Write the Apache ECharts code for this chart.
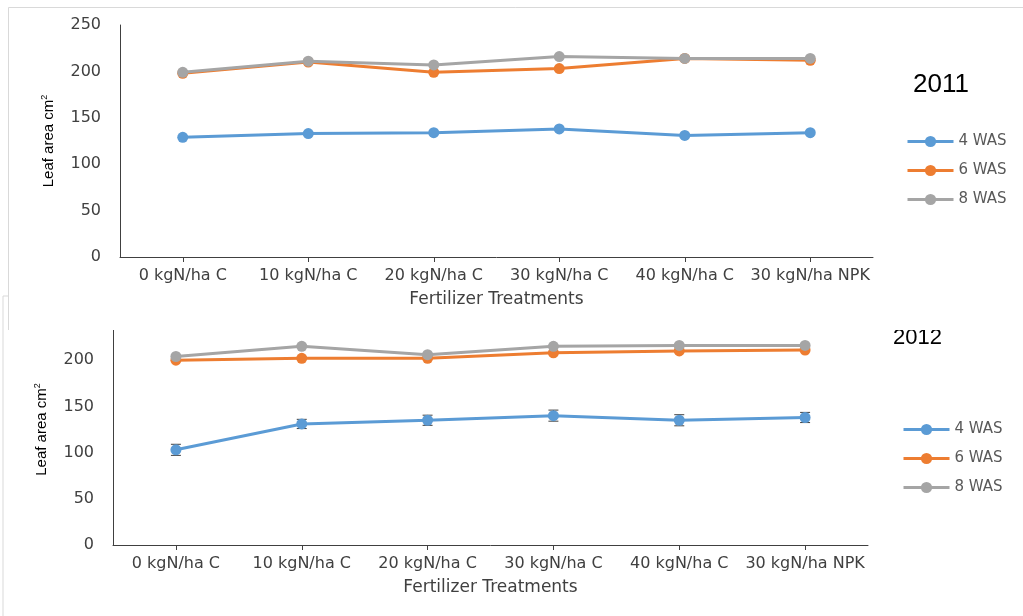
<!DOCTYPE html>
<html><head><meta charset="utf-8">
<script src="https://cdn.jsdelivr.net/npm/echarts@6/dist/echarts.min.js"></script>
<style>html,body{margin:0;padding:0;background:#fff}#c{width:1023px;height:616px}</style>
</head><body><div id="c"></div>
<script>
const categories = ['0 kgN/ha C','10 kgN/ha C','20 kgN/ha C','30 kgN/ha C','40 kgN/ha C','30 kgN/ha NPK'];
const seriesNames = ['4 WAS','6 WAS','8 WAS'];
const was4_2011 = [129, 133, 134, 138, 131, 134];
const was6_2011 = [198, 210, 199, 203, 214, 212];
const was8_2011 = [199, 211, 207, 216, 214, 214];
const was4_2012 = [103, 131, 135, 140, 135, 138];
const was6_2012 = [200, 202, 202, 208, 210, 211];
const was8_2012 = [204, 215, 206, 215, 216, 216];
const err4_2012 = [6, 5, 5.5, 6, 6, 5.5];
const yTicks = {min: 0, max: 250, interval: 50};
const titles = ['2011', '2012'];

const colors = ['#5B9BD5', '#ED7D31', '#A5A5A5'];
const F = 'DejaVu Sans';
const axisColor = '#404040';

function xAxis(gi, z) {
  return {
    type: 'category', gridIndex: gi, data: categories, z: z,
    boundaryGap: true,
    axisLine: {lineStyle: {color: axisColor, width: 1}},
    axisTick: {show: true, alignWithLabel: true, length: 5, lineStyle: {color: axisColor}},
    axisLabel: {interval: 0, color: axisColor, fontFamily: F, fontSize: 16, margin: 11},
    name: 'Fertilizer Treatments', nameLocation: 'middle', nameGap: 34,
    nameTextStyle: {color: axisColor, fontFamily: F, fontSize: 17}
  };
}
function yAxis(gi, z) {
  return {
    type: 'value', gridIndex: gi, z: z,
    min: yTicks.min, max: yTicks.max, interval: yTicks.interval,
    axisLine: {show: true, lineStyle: {color: axisColor, width: 1}},
    axisTick: {show: false},
    splitLine: {show: false},
    axisLabel: {color: axisColor, fontFamily: F, fontSize: 16, margin: 19},
    name: '{a|Leaf area cm}{b|2}', nameLocation: 'middle', nameGap: 62,
    nameTextStyle: {rich: {
      a: {fontFamily: 'Liberation Sans', fontSize: 15, color: '#000', lineHeight: 18},
      b: {fontFamily: 'Liberation Sans', fontSize: 9, color: '#000', verticalAlign: 'top', lineHeight: 18}
    }}
  };
}
function lineSeries(name, data, idx, gi, z) {
  return {
    type: 'line', name: name, data: data, xAxisIndex: gi, yAxisIndex: gi, z: z,
    symbol: 'circle', symbolSize: 11,
    lineStyle: {color: colors[idx], width: 3},
    itemStyle: {color: colors[idx]},
    emphasis: {disabled: true}, animation: false
  };
}
function legend(gi, left, top, z) {
  return {
    data: seriesNames, orient: 'vertical', left: left, top: top, z: z, padding: 0,
    itemWidth: 46, itemHeight: 14, itemGap: 14, selectedMode: false,
    lineStyle: {width: 3},
    textStyle: {color: '#595959', fontFamily: F, fontSize: 15}
  };
}

const errData = categories.map((c, i) => [i, was4_2012[i], err4_2012[i]]);

const option = {
  animation: false,
  grid: [
    {left: 120, right: 150, top: 25, height: 232},
    {left: 113, right: 155, top: 314, height: 231}
  ],
  xAxis: [xAxis(0, 20), xAxis(1, 1)],
  yAxis: [yAxis(0, 20), yAxis(1, 1)],
  legend: [legend(0, 906, 134, 20), legend(1, 902, 422, 1)],
  graphic: [
    {type: 'rect', z: 0, zlevel: 0, shape: {x: 3, y: 296, width: 1100, height: 400},
     style: {fill: 'none', stroke: '#d9d9d9', lineWidth: 1}},
    {type: 'text', z: 1, zlevel: 0, left: 893, top: 327,
     style: {text: titles[1], fontFamily: 'Liberation Sans', fontSize: 22, fill: '#000'}},
    {type: 'rect', z: 10, zlevel: 0, shape: {x: 8, y: 7, width: 1100, height: 323},
     style: {fill: '#fff', stroke: 'none'}},
    {type: 'line', z: 11, zlevel: 0, shape: {x1: 8.5, y1: 7.5, x2: 1023, y2: 7.5},
     style: {stroke: '#d9d9d9', lineWidth: 1}},
    {type: 'line', z: 11, zlevel: 0, shape: {x1: 8.5, y1: 7.5, x2: 8.5, y2: 330},
     style: {stroke: '#d9d9d9', lineWidth: 1}},
    {type: 'text', z: 20, zlevel: 0, left: 913, top: 72,
     style: {text: titles[0], fontFamily: 'Liberation Sans', fontSize: 26, fill: '#000'}}
  ],
  series: [
    lineSeries(seriesNames[0], was4_2011, 0, 0, 21),
    lineSeries(seriesNames[1], was6_2011, 1, 0, 22),
    lineSeries(seriesNames[2], was8_2011, 2, 0, 23),
    {
      type: 'custom', name: 'err', xAxisIndex: 1, yAxisIndex: 1, z: 2,
      data: errData, encode: {x: 0, y: 1}, silent: true,
      renderItem: function (params, api) {
        const i = api.value(0), v = api.value(1), e = api.value(2);
        const t = api.coord([i, v + e]), b = api.coord([i, v - e]);
        const hw = 5;
        const st = {stroke: '#404040', lineWidth: 1};
        return {type: 'group', children: [
          {type: 'line', shape: {x1: t[0], y1: t[1], x2: b[0], y2: b[1]}, style: st},
          {type: 'line', shape: {x1: t[0] - hw, y1: t[1], x2: t[0] + hw, y2: t[1]}, style: st},
          {type: 'line', shape: {x1: b[0] - hw, y1: b[1], x2: b[0] + hw, y2: b[1]}, style: st}
        ]};
      }
    },
    lineSeries(seriesNames[0], was4_2012, 0, 1, 3),
    lineSeries(seriesNames[1], was6_2012, 1, 1, 4),
    lineSeries(seriesNames[2], was8_2012, 2, 1, 5)
  ]
};
const chart = echarts.init(document.getElementById('c'), null, {renderer: 'canvas'});
chart.setOption(option);
</script>
</body></html>
